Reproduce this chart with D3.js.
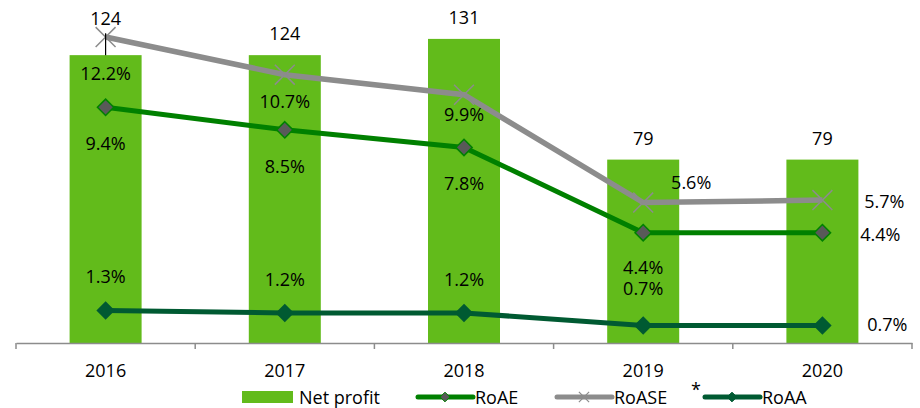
<!DOCTYPE html>
<html>
<head>
<meta charset="utf-8">
<script src="https://cdn.jsdelivr.net/npm/d3@7"></script>
<style>
  body { margin: 0; background: #fff; }
  text { font-family: "Open Sans", sans-serif; fill: #000; }
</style>
</head>
<body>
<svg id="chart" width="920" height="408"></svg>
<script>
var years = ["2016", "2017", "2018", "2019", "2020"];
var netProfit = [124, 124, 131, 79, 79];
var roae = [9.4, 8.5, 7.8, 4.4, 4.4];
var roase = [12.2, 10.7, 9.9, 5.6, 5.7];
var roaa = [1.3, 1.2, 1.2, 0.7, 0.7];

// label placement per point: [dx, dy] relative to point
var roaseLbl = [[0, 36], [0, 26], [0, 19], [48, -21], [62, 1]];
var roaeLbl = [[0, 36], [0, 36], [0, 36], [0, 34], [58, 1]];
var roaaLbl = [[0, -34], [0, -34], [0, -34], [0, -37], [65, -1]];

var svg = d3.select("#chart");

var x = d3.scaleBand().domain(years).range([16, 912]).paddingInner(0).paddingOuter(0);
var yBar = d3.scaleLinear().domain([0, 140]).range([343, 18]);
var yPct = d3.scaleLinear().domain([0, 13]).range([343, 17]);

var barW = 72;
function cx(i) { return x(years[i]) + x.bandwidth() / 2; }

// bars
svg.selectAll(".bar")
    .data(netProfit)
    .enter().append("rect")
    .attr("class", "bar")
    .attr("x", function(d, i) { return cx(i) - barW / 2; })
    .attr("y", function(d) { return yBar(d); })
    .attr("width", barW)
    .attr("height", function(d) { return yBar(0) - yBar(d); })
    .attr("fill", "#62bb1b");

// axis
var axis = svg.append("g")
    .attr("transform", "translate(0,343)")
    .call(d3.axisBottom(x).tickSize(0));
axis.select(".domain").attr("stroke", "#8c8c8c").attr("stroke-width", 1.5);
axis.selectAll("text")
    .attr("font-size", "18px")
    .attr("font-family", "Open Sans, sans-serif")
    .attr("dy", null)
    .attr("dominant-baseline", "central")
    .attr("y", 27);
var bounds = years.map(function(y) { return x(y); }).concat([x(years[4]) + x.bandwidth()]);
axis.selectAll(".sep")
    .data(bounds)
    .enter().append("line")
    .attr("x1", function(d) { return d; })
    .attr("x2", function(d) { return d; })
    .attr("y1", 0).attr("y2", 6)
    .attr("stroke", "#8c8c8c").attr("stroke-width", 1.5);

// lines
var line = d3.line()
    .x(function(d, i) { return cx(i); })
    .y(function(d) { return yPct(d); });

svg.append("path").datum(roase)
    .attr("d", line).attr("fill", "none")
    .attr("stroke", "#8c8c8c").attr("stroke-width", 5.5);
svg.append("path").datum(roae)
    .attr("d", line).attr("fill", "none")
    .attr("stroke", "#008000").attr("stroke-width", 5);
svg.append("path").datum(roaa)
    .attr("d", line).attr("fill", "none")
    .attr("stroke", "#005a32").attr("stroke-width", 5);

// markers
var diamond = d3.symbol().type(d3.symbolDiamond2).size(170);
svg.selectAll(".m-roae")
    .data(roae).enter().append("path")
    .attr("transform", function(d, i) { return "translate(" + cx(i) + "," + yPct(d) + ")"; })
    .attr("d", diamond)
    .attr("fill", "#595959").attr("stroke", "#008000").attr("stroke-width", 1.5);
svg.selectAll(".m-roaa")
    .data(roaa).enter().append("path")
    .attr("transform", function(d, i) { return "translate(" + cx(i) + "," + yPct(d) + ")"; })
    .attr("d", diamond)
    .attr("fill", "#005a32").attr("stroke", "#005a32").attr("stroke-width", 1.5);
var cross = d3.symbol().type(d3.symbolX).size(260);
svg.selectAll(".m-roase")
    .data(roase).enter().append("path")
    .attr("transform", function(d, i) { return "translate(" + cx(i) + "," + yPct(d) + ")"; })
    .attr("d", cross)
    .attr("fill", "none").attr("stroke", "#8c8c8c").attr("stroke-width", 1.5);

// bar value labels
var barLblDy = [-37, -22, -22, -22, -22];
svg.append("line")
    .attr("x1", cx(0)).attr("x2", cx(0))
    .attr("y1", yBar(netProfit[0]) - 22).attr("y2", yBar(netProfit[0]))
    .attr("stroke", "#000").attr("stroke-width", 1.2);
svg.selectAll(".bl")
    .data(netProfit).enter().append("text")
    .attr("x", function(d, i) { return cx(i); })
    .attr("y", function(d, i) { return yBar(d) + barLblDy[i]; })
    .attr("text-anchor", "middle")
    .attr("dominant-baseline", "central")
    .attr("font-size", "18px")
    .text(function(d) { return d; });

function pctLabels(data, offs) {
    svg.append("g").selectAll("text")
        .data(data).enter().append("text")
        .attr("x", function(d, i) { return cx(i) + offs[i][0]; })
        .attr("y", function(d, i) { return yPct(d) + offs[i][1]; })
        .attr("text-anchor", "middle")
        .attr("dominant-baseline", "central")
        .attr("font-size", "18px")
        .text(function(d) { return d.toFixed(1) + "%"; });
}
pctLabels(roase, roaseLbl);
pctLabels(roae, roaeLbl);
pctLabels(roaa, roaaLbl);

// legend
var lg = svg.append("g").attr("transform", "translate(0,397)");
lg.append("rect").attr("x", 242).attr("y", -6).attr("width", 51).attr("height", 12).attr("fill", "#62bb1b");
lg.append("text").attr("x", 299).attr("y", 0).attr("dominant-baseline", "central").attr("font-size", "18px").text("Net profit");

var legItems = [
    { name: "RoAE", x: 418, color: "#008000", mark: "d", fill: "#595959" },
    { name: "RoASE", x: 557, color: "#8c8c8c", mark: "x", fill: "none" },
    { name: "RoAA", x: 705, color: "#005a32", mark: "d", fill: "#005a32" }
];
legItems.forEach(function(it) {
    lg.append("line").attr("x1", it.x).attr("x2", it.x + 55).attr("y1", 0).attr("y2", 0)
        .attr("stroke", it.color).attr("stroke-width", 5).attr("stroke-linecap", "round");
    if (it.mark == "d") {
        lg.append("path").attr("transform", "translate(" + (it.x + 27) + ",0)")
            .attr("d", d3.symbol().type(d3.symbolDiamond2).size(60))
            .attr("fill", it.fill).attr("stroke", it.color);
    } else {
        lg.append("path").attr("transform", "translate(" + (it.x + 27) + ",0)")
            .attr("d", d3.symbol().type(d3.symbolX).size(70))
            .attr("fill", "none").attr("stroke", it.color).attr("stroke-width", 1.2);
    }
    lg.append("text").attr("x", it.x + 57).attr("y", 0).attr("dominant-baseline", "central")
        .attr("font-size", "18px").text(it.name);
});
lg.append("text").attr("x", 696).attr("y", -8).attr("text-anchor", "middle")
    .attr("dominant-baseline", "central").attr("font-size", "18px").text("*");
</script>
</body>
</html>
